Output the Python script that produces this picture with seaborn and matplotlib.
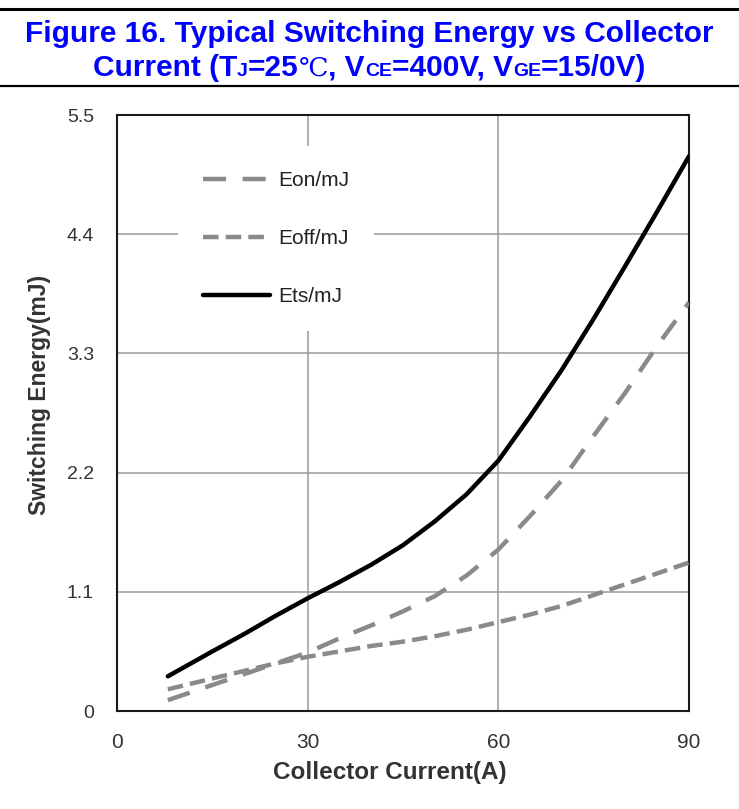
import matplotlib
matplotlib.use("Agg")
import matplotlib.pyplot as plt
import seaborn as sns
import pandas as pd
from matplotlib.lines import Line2D
from matplotlib.offsetbox import TextArea, HPacker, AnchoredOffsetbox

# ---------------- data ----------------
current = [8, 15, 20, 25, 30, 35, 40, 45, 50, 55, 60, 65, 70, 75, 80, 85, 90]
eon = [0.10, 0.24, 0.34, 0.44, 0.54, 0.67, 0.79, 0.92, 1.06, 1.25, 1.49, 1.80, 2.13, 2.54, 2.94, 3.37, 3.77]
eoff = [0.20, 0.30, 0.37, 0.44, 0.50, 0.55, 0.60, 0.64, 0.69, 0.75, 0.82, 0.89, 0.97, 1.07, 1.17, 1.27, 1.37]
ets = [0.32, 0.55, 0.71, 0.88, 1.04, 1.19, 1.35, 1.53, 1.75, 2.00, 2.31, 2.72, 3.15, 3.62, 4.11, 4.61, 5.12]
series_names = ["Eon/mJ", "Eoff/mJ", "Ets/mJ"]
x_ticks = [0, 30, 60, 90]
x_ticklabels = ["0", "30", "60", "90"]
y_ticks = [0, 1.1, 2.2, 3.3, 4.4, 5.5]
y_ticklabels = ["0", "1.1", "2.2", "3.3", "4.4", "5.5"]
title_line1 = "Figure 16. Typical Switching Energy vs Collector"
x_label = "Collector Current(A)"
y_label = "Switching Energy(mJ)"

sns.set_theme(style="white")
plt.rcParams["font.family"] = ["Liberation Sans", "DejaVu Sans"]

df = pd.DataFrame({"current": current, "Eon": eon, "Eoff": eoff, "Ets": ets})

fig = plt.figure(figsize=(7.39, 8.09), dpi=100)
ax = fig.add_axes([117 / 739, 1 - 711 / 809, (689 - 117) / 739, (711 - 115) / 809])

gray = "#8a8a8a"
LW = 3.2
sns.lineplot(data=df, x="current", y="Eon", ax=ax, color=gray, lw=LW,
             linestyle=(0, (5.2, 3.7)), label=series_names[0], zorder=5)
sns.lineplot(data=df, x="current", y="Eoff", ax=ax, color=gray, lw=LW,
             linestyle=(0, (3.5, 1.6)), label=series_names[1], zorder=5)
sns.lineplot(data=df, x="current", y="Ets", ax=ax, color="black", lw=LW,
             linestyle="-", label=series_names[2], zorder=6)

ax.set_xlim(0, 90)
ax.set_ylim(0, 5.5)
ax.set_xticks(x_ticks)
ax.set_xticklabels(x_ticklabels)
ax.set_yticks(y_ticks)
ax.set_yticklabels(y_ticklabels)
ax.grid(True, color="#9a9a9a", lw=1.1)
ax.set_axisbelow(True)
ax.tick_params(axis="both", length=0, colors="#333333")
ax.tick_params(axis="x", pad=15.5, labelsize=15)
ax.tick_params(axis="y", pad=16.5, labelsize=14)
for s in ax.spines.values():
    s.set_color("#1a1a1a")
    s.set_linewidth(1.5)

ax.set_xlabel(x_label, fontsize=17.5, fontweight="bold", color="#333333")
ax.set_ylabel(y_label, fontsize=16.5, fontweight="bold", color="#333333")
ax.xaxis.set_label_coords((390 - 117) / 572, (711 - 761) / 596)
ax.yaxis.set_label_coords((51 - 117) / 572, (711 - 395) / 596)

leg = ax.legend(loc="upper left", bbox_to_anchor=(0.089, 0.965), fontsize=15,
                handlelength=3.2, handletextpad=0.4, labelspacing=1.87,
                borderpad=1.2, frameon=True, facecolor="white", edgecolor="none",
                framealpha=1.0, fancybox=False)
for t in leg.get_texts():
    t.set_color("#222222")
leg.set_zorder(4)

# ---------------- title ----------------
blue = "#0000ff"
fig.text(0.5, 1 - 34 / 809, title_line1, ha="center", va="center", fontsize=21.5,
         fontweight="bold", color=blue)

fam = ["Liberation Sans", "DejaVu Sans"]
big = dict(fontsize=21.5, fontweight="bold", color=blue, family=fam)
small = dict(fontsize=14, fontweight="bold", color=blue, family=fam)
serif = dict(fontsize=19, fontweight="normal", color=blue, family=["DejaVu Serif", "Noto Sans CJK SC"])
pieces = [
    ("Current (T", big), ("J", small), ("=25", big), ("\u2103", serif),
    (", V", big), ("CE", small), ("=400V, V", big), ("GE", small), ("=15/0V)", big),
]
areas = [TextArea(txt, textprops=props) for txt, props in pieces]
box = HPacker(children=areas, align="baseline", pad=0, sep=0)
anch = AnchoredOffsetbox(loc="center", child=box, frameon=False, pad=0, borderpad=0,
                         bbox_to_anchor=(0.5, 1 - 68 / 809), bbox_transform=fig.transFigure)
fig.add_artist(anch)

# rules
fig.add_artist(Line2D([0, 1], [1 - 9 / 809, 1 - 9 / 809], transform=fig.transFigure,
                      color="black", lw=2.2))
fig.add_artist(Line2D([0, 1], [1 - 86 / 809, 1 - 86 / 809], transform=fig.transFigure,
                      color="black", lw=1.6))

fig.savefig("out.png", dpi=100)
